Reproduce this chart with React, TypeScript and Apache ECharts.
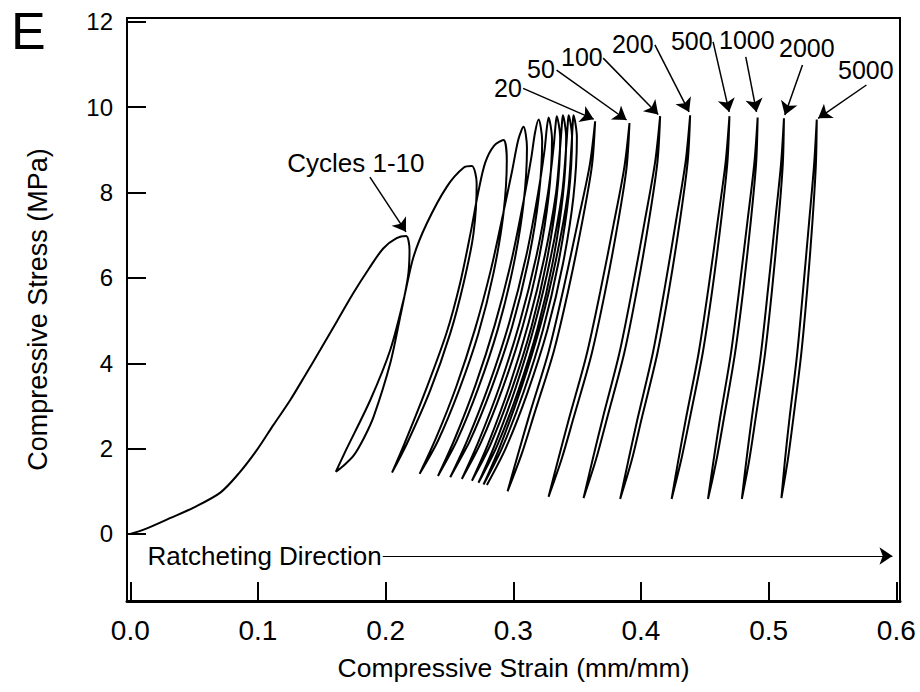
import React, { useEffect, useRef } from 'react';
import * as echarts from 'echarts';

const FONT = 'Arial, "Liberation Sans", Helvetica, sans-serif';

const X_TICKS = [0, 0.1, 0.2, 0.3, 0.4, 0.5, 0.6];
const Y_TICKS = [0, 2, 4, 6, 8, 10, 12];

// Cycles 1-10: initial loading then alternating unload / reload branches
const loading1 = [[0, 0], [0.012, 0.12], [0.031, 0.37], [0.0496, 0.62], [0.0705, 0.97], [0.085, 1.42], [0.0992, 1.97], [0.112, 2.55], [0.1253, 3.14], [0.137, 3.72], [0.1487, 4.31], [0.162, 4.99], [0.1746, 5.64], [0.187, 6.22], [0.1981, 6.69], [0.2086, 6.93], [0.216, 6.98]];
const unload1 = [[0.216, 6.98], [0.2187, 6.65], [0.2175, 6.03], [0.2114, 5.09], [0.2036, 4.0], [0.1906, 2.75], [0.183, 2.25], [0.175, 1.84], [0.167, 1.6], [0.161, 1.46]];
const reload2 = [[0.161, 1.46], [0.169, 1.97], [0.188, 3.14], [0.2036, 4.31], [0.214, 5.48], [0.2218, 6.49], [0.2323, 7.28], [0.248, 8.14], [0.261, 8.58], [0.2675, 8.62]];
const unload2 = [[0.2675, 8.62], [0.2713, 8.21], [0.2688, 7.04], [0.261, 5.87], [0.2506, 4.7], [0.235, 3.37], [0.2167, 2.12], [0.205, 1.44]];
const reload3 = [[0.205, 1.44], [0.2145, 2.1], [0.2318, 3.4], [0.2478, 4.72], [0.2585, 5.9], [0.2665, 7.05], [0.2725, 8.0], [0.278, 8.7], [0.285, 9.1], [0.2923, 9.23]];
const unload3 = [[0.2923, 9.23], [0.2949, 8.76], [0.2923, 7.51], [0.2844, 6.1], [0.2726, 4.69], [0.2575, 3.37], [0.2411, 2.19], [0.2266, 1.41]];
const reload4 = [[0.2266, 1.41], [0.2395, 2.25], [0.2553, 3.45], [0.27, 4.8], [0.2825, 6.2], [0.292, 7.5], [0.299, 8.5], [0.304, 9.25], [0.308, 9.54]];
const unload4 = [[0.308, 9.54], [0.3107, 9.05], [0.308, 7.74], [0.3, 6.27], [0.2879, 4.8], [0.2725, 3.41], [0.2557, 2.18], [0.241, 1.36]];
const reload5 = [[0.241, 1.36], [0.254, 2.22], [0.2705, 3.5], [0.2855, 4.9], [0.2985, 6.4], [0.308, 7.8], [0.314, 8.8], [0.317, 9.4], [0.3198, 9.71]];
const unload5 = [[0.3198, 9.71], [0.3226, 9.21], [0.3198, 7.87], [0.3115, 6.36], [0.299, 4.85], [0.2831, 3.43], [0.2658, 2.17], [0.2506, 1.33]];
const reload6 = [[0.2506, 1.33], [0.264, 2.2], [0.281, 3.5], [0.2968, 4.95], [0.31, 6.5], [0.3195, 8.0], [0.3245, 9.0], [0.3262, 9.5], [0.3276, 9.76]];
const unload6 = [[0.3276, 9.76], [0.3303, 9.25], [0.3276, 7.9], [0.3195, 6.37], [0.3072, 4.85], [0.2916, 3.41], [0.2746, 2.14], [0.2597, 1.29]];
const reload7 = [[0.2597, 1.29], [0.2728, 2.17], [0.2895, 3.48], [0.305, 4.95], [0.318, 6.5], [0.3272, 8.0], [0.3315, 9.05], [0.333, 9.55], [0.334, 9.79]];
const unload7 = [[0.334, 9.79], [0.3367, 9.28], [0.334, 7.91], [0.326, 6.37], [0.3141, 4.84], [0.2988, 3.39], [0.2822, 2.1], [0.2676, 1.25]];
const reload8 = [[0.2676, 1.25], [0.2805, 2.13], [0.2968, 3.45], [0.312, 4.95], [0.3245, 6.5], [0.3335, 8.0], [0.3368, 9.1], [0.338, 9.58], [0.3388, 9.81]];
const unload8 = [[0.3388, 9.81], [0.3414, 9.29], [0.3388, 7.92], [0.3309, 6.37], [0.319, 4.82], [0.3038, 3.35], [0.2872, 2.06], [0.2727, 1.2]];
const reload9 = [[0.2727, 1.2], [0.2855, 2.09], [0.3018, 3.42], [0.317, 4.93], [0.3294, 6.5], [0.3383, 8.0], [0.3415, 9.1], [0.3426, 9.58], [0.3433, 9.81]];
const unload9 = [[0.3433, 9.81], [0.346, 9.29], [0.3433, 7.91], [0.3353, 6.35], [0.3233, 4.79], [0.308, 3.32], [0.2914, 2.03], [0.2767, 1.16]];
const reload10 = [[0.2767, 1.16], [0.2897, 2.06], [0.306, 3.4], [0.3213, 4.9], [0.3338, 6.48], [0.3428, 8.0], [0.3456, 9.1], [0.3465, 9.58], [0.3471, 9.81]];
const unload10 = [[0.3471, 9.81], [0.3498, 9.29], [0.3471, 7.9], [0.339, 6.35], [0.3268, 4.79], [0.3112, 3.32], [0.2942, 2.02], [0.2793, 1.15]];

// Later single cycles (closed loops)
const loop20 = [[0.2955, 1.0], [0.3037, 1.87], [0.3129, 2.82], [0.3278, 4.29], [0.3395, 5.77], [0.3507, 7.33], [0.3598, 8.63], [0.3641, 9.67], [0.3616, 8.63], [0.3541, 7.33], [0.3435, 5.77], [0.3318, 4.29], [0.3165, 2.82], [0.3065, 1.87], [0.2955, 1.0]];
const loop50 = [[0.3276, 0.87], [0.3352, 1.75], [0.3437, 2.71], [0.3574, 4.2], [0.3682, 5.69], [0.3786, 7.26], [0.3869, 8.58], [0.391, 9.63], [0.3887, 8.58], [0.3818, 7.26], [0.372, 5.69], [0.3612, 4.2], [0.3471, 2.71], [0.3378, 1.75], [0.3276, 0.87]];
const loop100 = [[0.355, 0.84], [0.3621, 1.74], [0.3701, 2.72], [0.3831, 4.24], [0.3933, 5.76], [0.4032, 7.37], [0.4111, 8.72], [0.415, 9.79], [0.4129, 8.72], [0.4064, 7.37], [0.3971, 5.76], [0.3869, 4.24], [0.3735, 2.72], [0.3647, 1.74], [0.355, 0.84]];
const loop200 = [[0.3837, 0.82], [0.3901, 1.72], [0.3974, 2.71], [0.4093, 4.24], [0.4186, 5.76], [0.4277, 7.38], [0.435, 8.73], [0.4385, 9.81], [0.4366, 8.73], [0.4307, 7.38], [0.4222, 5.76], [0.4129, 4.24], [0.4006, 2.71], [0.3927, 1.72], [0.3837, 0.82]];
const loop500 = [[0.424, 0.82], [0.4292, 1.72], [0.4352, 2.7], [0.4451, 4.23], [0.4528, 5.75], [0.4603, 7.37], [0.4663, 8.71], [0.4693, 9.79], [0.4677, 8.71], [0.4629, 7.37], [0.456, 5.75], [0.4483, 4.23], [0.4382, 2.7], [0.4314, 1.72], [0.424, 0.82]];
const loop1000 = [[0.4525, 0.82], [0.4568, 1.71], [0.4619, 2.7], [0.4704, 4.22], [0.477, 5.74], [0.4835, 7.35], [0.4888, 8.69], [0.4914, 9.76], [0.4902, 8.69], [0.4861, 7.35], [0.4802, 5.74], [0.4736, 4.22], [0.4649, 2.7], [0.459, 1.71], [0.4525, 0.82]];
const loop2000 = [[0.479, 0.82], [0.4825, 1.71], [0.4867, 2.69], [0.4939, 4.21], [0.4995, 5.73], [0.5051, 7.33], [0.5097, 8.67], [0.512, 9.74], [0.5111, 8.67], [0.5077, 7.33], [0.5027, 5.73], [0.4971, 4.21], [0.4897, 2.69], [0.4847, 1.71], [0.479, 0.82]];
const loop5000 = [[0.51, 0.84], [0.5128, 1.73], [0.5163, 2.7], [0.5223, 4.21], [0.527, 5.72], [0.5317, 7.31], [0.5356, 8.65], [0.5377, 9.71], [0.537, 8.65], [0.5343, 7.31], [0.5302, 5.72], [0.5255, 4.21], [0.5193, 2.7], [0.515, 1.73], [0.51, 0.84]];

// Annotations
const annoTexts = ['Cycles 1-10', '20', '50', '100', '200', '500', '1000', '2000', '5000'];
const annoSizes = [26, 25, 25, 25, 25, 25, 25, 25, 25];
const annoPos = [[0.1767, 8.69], [0.2958, 10.45], [0.3217, 10.9], [0.3537, 11.18], [0.3936, 11.48], [0.4398, 11.55], [0.4829, 11.57], [0.5299, 11.39], [0.5761, 10.87]];
const arrowFrom = [[0.1877, 8.36], [0.3077, 10.44], [0.3339, 10.87], [0.3704, 11.15], [0.4109, 11.46], [0.4565, 11.53], [0.4821, 11.18], [0.5265, 10.99], [0.5766, 10.52]];
const arrowTo = [[0.2159, 7.08], [0.363, 9.72], [0.3887, 9.7], [0.4135, 9.83], [0.4377, 9.89], [0.4691, 9.89], [0.4905, 9.89], [0.5127, 9.82], [0.5388, 9.74]];
const ratchetText = 'Ratcheting Direction';
const ratchetTextPos = [0.1052, -0.515];
const ratchetArrow = [[0.1977, -0.515], [0.597, -0.515]];

const cyclesPath = [
  ...loading1,
  ...unload1.slice(1), ...reload2.slice(1), ...unload2.slice(1),
  ...reload3.slice(1), ...unload3.slice(1), ...reload4.slice(1), ...unload4.slice(1),
  ...reload5.slice(1), ...unload5.slice(1), ...reload6.slice(1), ...unload6.slice(1),
  ...reload7.slice(1), ...unload7.slice(1), ...reload8.slice(1), ...unload8.slice(1),
  ...reload9.slice(1), ...unload9.slice(1), ...reload10.slice(1), ...unload10.slice(1),
];
const loops = [loop20, loop50, loop100, loop200, loop500, loop1000, loop2000, loop5000];

function curveSeries(data: number[][]) {
  return {
    type: 'line',
    data,
    showSymbol: false,
    symbol: 'none',
    smooth: 0.3,
    silent: true,
    lineStyle: { color: '#000', width: 2 },
    z: 3,
  };
}

export default function App() {
  const ref = useRef<HTMLDivElement>(null);
  useEffect(() => {
    const chart = echarts.init(ref.current!, null, { renderer: 'svg' });
    const arrowData: any[] = arrowFrom.map((p, i) => [{ coord: p }, { coord: arrowTo[i] }]);
    arrowData.push([
      { coord: ratchetArrow[0], lineStyle: { width: 1.2 } },
      { coord: ratchetArrow[1] },
    ]);
    const option: any = {
      animation: false,
      backgroundColor: '#fff',
      graphic: [
        {
          type: 'text',
          left: 11,
          top: 5,
          style: {
            text: 'E',
            fontSize: 52,
            fontFamily: FONT,
            fill: '#000',
          },
        },
      ],
      grid: {
        left: 127, right: 20, top: 18, bottom: 91,
        show: true, borderColor: '#000', borderWidth: 2, backgroundColor: 'transparent',
      },
      xAxis: {
        type: 'value',
        min: -0.0026,
        max: 0.6029,
        splitLine: { show: false },
        axisLine: { show: true, onZero: false, lineStyle: { color: '#000', width: 3 } },
        axisTick: { show: true, inside: true, length: 19, customValues: X_TICKS, lineStyle: { color: '#000', width: 2 } },
        axisLabel: {
          customValues: X_TICKS,
          formatter: (v: number) => v.toFixed(1),
          fontSize: 28, color: '#000', fontFamily: FONT, margin: 15,
        },
        name: 'Compressive Strain (mm/mm)',
        nameLocation: 'middle',
        nameGap: 53,
        nameTextStyle: { fontSize: 26.5, color: '#000', fontFamily: FONT },
      },
      yAxis: {
        type: 'value',
        min: -1.57,
        max: 12.09,
        splitLine: { show: false },
        axisLine: { show: true, onZero: false, lineStyle: { color: '#000', width: 2 } },
        axisTick: { show: true, inside: true, length: 19, customValues: Y_TICKS, lineStyle: { color: '#000', width: 2 } },
        axisLabel: {
          customValues: Y_TICKS,
          formatter: (v: number) => String(v),
          fontSize: 24, color: '#000', fontFamily: FONT, margin: 14,
        },
        name: 'Compressive Stress (MPa)',
        nameLocation: 'middle',
        nameGap: 76,
        nameRotate: 90,
        nameTextStyle: { fontSize: 27, color: '#000', fontFamily: FONT },
      },
      series: [
        curveSeries(cyclesPath),
        ...loops.map((l) => curveSeries(l)),
        {
          type: 'scatter',
          silent: true,
          symbol: 'circle',
          symbolSize: 0,
          itemStyle: { color: '#000', opacity: 1 },
          data: [
            ...annoTexts.map((t, i) => ({ name: t, value: annoPos[i], label: { fontSize: annoSizes[i] } })),
            { name: ratchetText, value: ratchetTextPos, label: { fontSize: 26 } },
          ],
          label: {
            show: true,
            position: [0, 0],
            align: 'center',
            verticalAlign: 'middle',
            formatter: '{b}',
            color: '#000',
            textBorderWidth: 0,
            fontFamily: FONT,
          },
          z: 4,
        },
        {
          type: 'line',
          data: [],
          silent: true,
          itemStyle: { color: '#000' },
          lineStyle: { color: '#000' },
          markLine: {
            silent: true,
            symbol: ['none', 'arrow'],
            symbolSize: 13,
            label: { show: false },
            itemStyle: { color: '#000' },
            lineStyle: { color: '#000', width: 1.5, type: 'solid' },
            emphasis: { disabled: true },
            data: arrowData,
          },
          z: 4,
        },
      ],
    };
    chart.setOption(option);
    return () => chart.dispose();
  }, []);
  return (
    <div
      ref={ref}
      style={{ position: 'fixed', left: 0, top: 0, width: 920, height: 692, background: '#fff' }}
    />
  );
}
